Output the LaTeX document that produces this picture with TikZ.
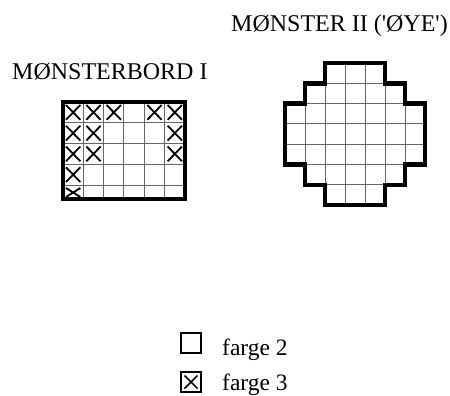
\documentclass[tikz,border=0pt]{standalone}
\usepackage{fontspec}
\setmainfont{Liberation Serif}
\begin{document}
\begin{tikzpicture}[x=1pt,y=-1pt,
  thingrid/.style={draw=black!60,line width=1pt},
  thickborder/.style={draw=black,line width=4.6pt,line join=miter},
  crossmark/.style={draw=black,line width=1.8pt},
  legendbox/.style={draw=black,line width=1.2pt},
  lbl/.style={anchor=base west,inner sep=0pt}]
\useasboundingbox (0,0) rectangle (450,396);

% titles
\node[lbl,font=\fontsize{24}{28}\selectfont] (t2) at (231,32) {MØNSTER II (\textquotesingle ØYE\textquotesingle)};
\node[lbl,font=\fontsize{24}{28}\selectfont] (t1) at (12,80) {MØNSTERBORD I};

% ---- left grid: 6 columns x 5 rows ----
\foreach \i in {1,...,5}
  \draw[thingrid] ({63+20.33*\i},102) -- ({63+20.33*\i},199);
\foreach \y in {122.75,143.5,164.25,185}
  \draw[thingrid] (63,\y) -- (185,\y);
\foreach \c/\r in {0/0,1/0,2/0,4/0,5/0,0/1,1/1,5/1,0/2,1/2,5/2,0/3,0/4}{
  \pgfmathsetmacro{\xa}{63+20.33*\c+3}
  \pgfmathsetmacro{\xb}{63+20.33*(\c+1)-3}
  \pgfmathsetmacro{\ya}{102+20.75*\r+3}
  \pgfmathsetmacro{\yb}{min(102+20.75*(\r+1)-3,197)}
  \draw[crossmark] (\xa,\ya) -- (\xb,\yb) (\xa,\yb) -- (\xb,\ya);
}
\draw[thickborder] (63,102) rectangle (185,199);

% ---- right shape ('eye') ----
\def\eyepath{(325,63) -- (385,63) -- (385,83.3) -- (405,83.3) -- (405,103.6) -- (425,103.6) -- (425,164.5) -- (405,164.5) -- (405,184.8) -- (385,184.8) -- (385,205.1) -- (325,205.1) -- (325,184.8) -- (305,184.8) -- (305,164.5) -- (285,164.5) -- (285,103.6) -- (305,103.6) -- (305,83.3) -- (325,83.3) -- cycle}
\begin{scope}
  \clip \eyepath;
  \foreach \i in {1,...,6}
    \draw[thingrid] ({285+20*\i},60) -- ({285+20*\i},210);
  \foreach \i in {1,...,6}
    \draw[thingrid] (280,{63+20.3*\i}) -- (430,{63+20.3*\i});
\end{scope}
\draw[thickborder] \eyepath;

% ---- legend ----
\draw[legendbox] (181,333) rectangle (201,353);
\draw[legendbox] (181,372) rectangle (201,392);
\draw[crossmark,line width=1.5pt] (184.5,375.5) -- (197.5,388.5) (184.5,388.5) -- (197.5,375.5);
\node[lbl,font=\fontsize{23.5}{28}\selectfont] (f2) at (222,355) {farge 2};
\node[lbl,font=\fontsize{23.5}{28}\selectfont] (f3) at (222,390) {farge 3};
\end{tikzpicture}
\end{document}
